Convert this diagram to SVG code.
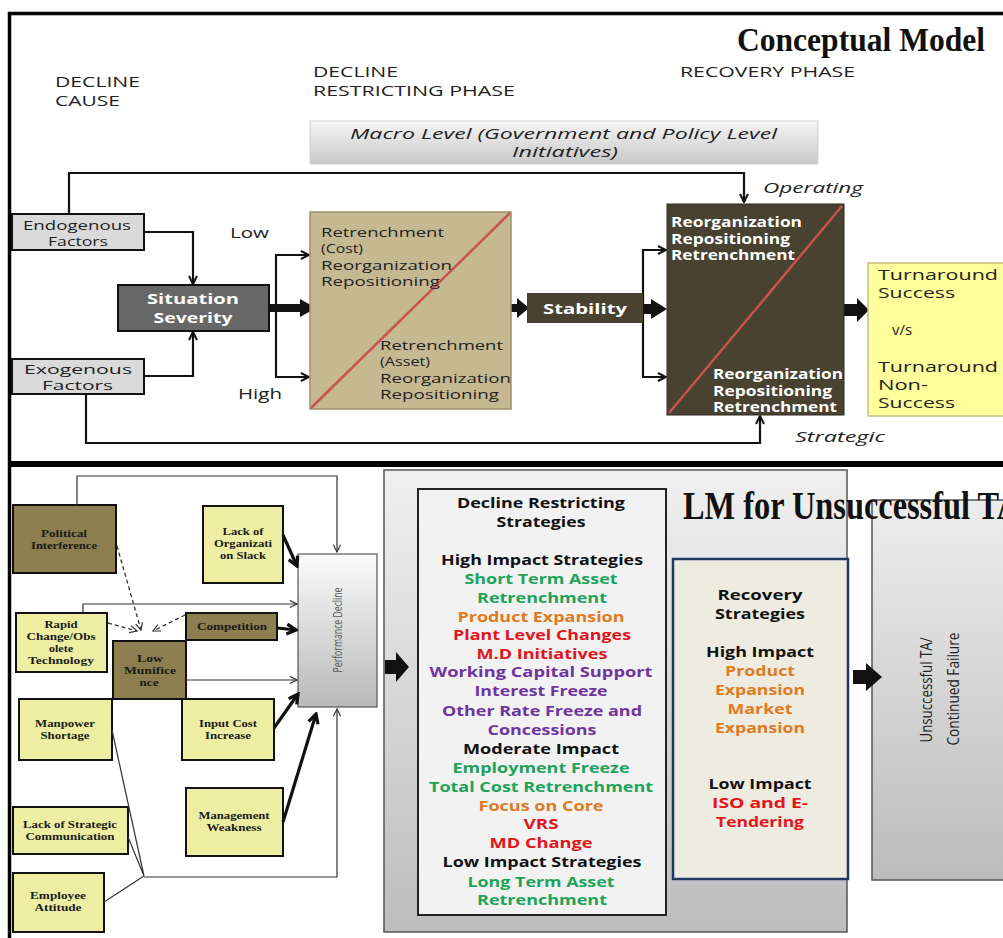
<svg xmlns="http://www.w3.org/2000/svg" width="1003" height="938" viewBox="0 0 1003 938">
  <defs>
    <style>
      .sans { font-family: "Open Sans", "DejaVu Sans", sans-serif; }
      .lbl { font-family: "Open Sans", "DejaVu Sans", sans-serif; font-size: 14px; fill: #222; }
      .box { font-size: 13.5px; }
      .it { font-family: "Open Sans", "DejaVu Sans", sans-serif; font-size: 15px; font-style: italic; fill: #222; }
      .wb { font-family: "Open Sans", "DejaVu Sans", sans-serif; font-size: 13.5px; font-weight: 700; fill: #fff; }
      .serif-title { font-family: "Liberation Serif", "Times New Roman", serif; font-weight: 700; fill: #111; }
      .strat { font-family: "Open Sans", "DejaVu Sans", sans-serif; font-size: 15px; font-weight: 700; text-anchor: middle; }
      .blk { fill: #111; }
      .grn { fill: #1ea35a; }
      .org { fill: #e07a1f; }
      .red { fill: #e3141c; }
      .pur { fill: #7034a0; }
      .cause { font-family: "Liberation Serif", "Times New Roman", serif; font-size: 10.5px; font-weight: 700; fill: #1a1a1a; text-anchor: middle; }
      .olive { fill: #8c7e4e; stroke: #111; stroke-width: 2; }
      .pale { fill: #eeeea2; stroke: #111; stroke-width: 2; }
      .link { fill: none; stroke: #111; stroke-width: 2.2; }
      .thin { fill: none; stroke: #333; stroke-width: 1.2; }
      .dash { fill: none; stroke: #333; stroke-width: 1.3; stroke-dasharray: 4 3; }
      .heavy { fill: none; stroke: #111; stroke-width: 3.2; }
      .block { fill: #111; }
      .diag { stroke: #c9534f; stroke-width: 2.5; }
    </style>
    <marker id="ah" viewBox="0 0 10 10" refX="9" refY="5" markerWidth="10" markerHeight="10" markerUnits="userSpaceOnUse" orient="auto">
      <path d="M1,1 L9,5 L1,9" fill="none" stroke="#111" stroke-width="2"/>
    </marker>
    <marker id="ahThin" viewBox="0 0 10 10" refX="9" refY="5" markerWidth="9" markerHeight="9" markerUnits="userSpaceOnUse" orient="auto">
      <path d="M1,1 L9,5 L1,9" fill="none" stroke="#333" stroke-width="1.3"/>
    </marker>
    <marker id="ahHeavy" viewBox="0 0 12 12" refX="10" refY="6" markerWidth="13" markerHeight="13" markerUnits="userSpaceOnUse" orient="auto">
      <path d="M1.5,1.5 L10,6 L1.5,10.5" fill="none" stroke="#111" stroke-width="3"/>
    </marker>
    <linearGradient id="macroGrad" x1="0" y1="0" x2="0" y2="1">
      <stop offset="0" stop-color="#f5f5f5"/>
      <stop offset="1" stop-color="#c8c8c8"/>
    </linearGradient>
    <linearGradient id="panelGrad" x1="0" y1="0" x2="0" y2="1">
      <stop offset="0" stop-color="#f0f0f0"/>
      <stop offset="1" stop-color="#bdbdbd"/>
    </linearGradient>
    <linearGradient id="perfGrad" x1="0" y1="0" x2="0" y2="1">
      <stop offset="0" stop-color="#fbfbfb"/>
      <stop offset="1" stop-color="#b9b9b9"/>
    </linearGradient>
    <linearGradient id="outGrad" x1="0" y1="0" x2="0" y2="1">
      <stop offset="0" stop-color="#ededed"/>
      <stop offset="1" stop-color="#bcbcbc"/>
    </linearGradient>
  </defs>

  <rect width="1003" height="938" fill="#fff"/>

  <!-- panel frames -->
  <g id="frames">
    <path d="M9.5,938 V13.5 H1003" fill="none" stroke="#000" stroke-width="3.5"/>
    <rect x="8" y="461" width="995" height="6" fill="#000"/>
  </g>

  <!-- ===== upper panel: conceptual model ===== -->
  <g id="headings">
    <text class="lbl" x="55" y="87" textLength="85" lengthAdjust="spacingAndGlyphs">DECLINE</text>
    <text class="lbl" x="55" y="106" textLength="65" lengthAdjust="spacingAndGlyphs">CAUSE</text>
    <text class="lbl" x="313" y="77" textLength="85" lengthAdjust="spacingAndGlyphs">DECLINE</text>
    <text class="lbl" x="313" y="96" textLength="202" lengthAdjust="spacingAndGlyphs">RESTRICTING PHASE</text>
    <text class="lbl" x="680" y="77" textLength="175" lengthAdjust="spacingAndGlyphs">RECOVERY PHASE</text>
    <text class="serif-title" x="737" y="51" font-size="34" textLength="248" lengthAdjust="spacingAndGlyphs">Conceptual Model</text>
  </g>

  <g id="macro">
    <rect x="310" y="121" width="508" height="43" fill="url(#macroGrad)" stroke="#d0d0d0" stroke-width="1"/>
    <text class="it" font-size="14" x="350" y="139" textLength="427" lengthAdjust="spacingAndGlyphs">Macro Level (Government and Policy Level</text>
    <text class="it" font-size="14" x="512" y="157" textLength="106" lengthAdjust="spacingAndGlyphs">Initiatives)</text>
  </g>

  <g id="connectors-top">
    <path class="link" d="M69,214 V173 H744 V202" marker-end="url(#ah)"/>
    <path class="link" d="M144,232 H193 V284" marker-end="url(#ah)"/>
    <path class="link" d="M144,376 H193 V332" marker-end="url(#ah)"/>
    <path class="link" d="M276,308 V255 H309" marker-end="url(#ah)"/>
    <path class="link" d="M276,308 V377 H309" marker-end="url(#ah)"/>
    <path class="link" d="M643,309 V250 H666" marker-end="url(#ah)"/>
    <path class="link" d="M643,309 V377 H666" marker-end="url(#ah)"/>
    <path class="link" d="M86,394 V443 H760 V416" marker-end="url(#ah)"/>
    <polygon class="block" points="269,304 300,304 300,299 316,308 300,317 300,312 269,312"/>
    <polygon class="block" points="511,304 517,304 517,298 529,308 517,318 517,312 511,312"/>
    <polygon class="block" points="633,304 651,304 651,299 667,309 651,319 651,314 633,314"/>
    <polygon class="block" points="844,304 857,304 857,298 869,310 857,322 857,316 844,316"/>
    <text class="it" x="763" y="193" textLength="100" lengthAdjust="spacingAndGlyphs">Operating</text>
    <text class="it" x="795" y="442" textLength="90" lengthAdjust="spacingAndGlyphs">Strategic</text>
    <text class="lbl" x="230" y="238" textLength="39" lengthAdjust="spacingAndGlyphs">Low</text>
    <text class="lbl" x="238" y="399" textLength="44" lengthAdjust="spacingAndGlyphs">High</text>
  </g>

  <g id="endogenous">
    <rect x="12" y="214" width="132" height="36" fill="#dadada" stroke="#111" stroke-width="2"/>
    <text class="lbl box" x="23" y="230" textLength="108" lengthAdjust="spacingAndGlyphs">Endogenous</text>
    <text class="lbl box" x="48" y="246" textLength="60" lengthAdjust="spacingAndGlyphs">Factors</text>
  </g>

  <g id="exogenous">
    <rect x="12" y="359" width="132" height="35" fill="#dadada" stroke="#111" stroke-width="2"/>
    <text class="lbl box" x="24" y="374" textLength="108" lengthAdjust="spacingAndGlyphs">Exogenous</text>
    <text class="lbl box" x="42" y="390" textLength="71" lengthAdjust="spacingAndGlyphs">Factors</text>
  </g>

  <g id="situation">
    <rect x="118" y="285" width="151" height="46" fill="#676767" stroke="#111" stroke-width="2"/>
    <text class="wb" x="193" y="304" font-size="15" text-anchor="middle" textLength="92" lengthAdjust="spacingAndGlyphs">Situation</text>
    <text class="wb" x="193" y="323" font-size="15" text-anchor="middle" textLength="79" lengthAdjust="spacingAndGlyphs">Severity</text>
  </g>

  <g id="restricting">
    <rect x="310" y="212" width="201" height="197" fill="#c6b991" stroke="#9c9070" stroke-width="1.5"/>
    <line class="diag" x1="311" y1="408" x2="510" y2="213"/>
    <text class="lbl box" x="321" y="237" textLength="123" lengthAdjust="spacingAndGlyphs">Retrenchment</text>
    <text class="lbl box" x="321" y="253" textLength="42" lengthAdjust="spacingAndGlyphs">(Cost)</text>
    <text class="lbl box" x="321" y="270" textLength="131" lengthAdjust="spacingAndGlyphs">Reorganization</text>
    <text class="lbl box" x="321" y="286" textLength="119" lengthAdjust="spacingAndGlyphs">Repositioning</text>
    <text class="lbl box" x="380" y="350" textLength="123" lengthAdjust="spacingAndGlyphs">Retrenchment</text>
    <text class="lbl box" x="380" y="366" textLength="50" lengthAdjust="spacingAndGlyphs">(Asset)</text>
    <text class="lbl box" x="380" y="383" textLength="131" lengthAdjust="spacingAndGlyphs">Reorganization</text>
    <text class="lbl box" x="380" y="399" textLength="119" lengthAdjust="spacingAndGlyphs">Repositioning</text>
  </g>

  <g id="stability">
    <rect x="527" y="293" width="116" height="30" fill="#494230"/>
    <text class="wb" x="543" y="314" font-size="15" textLength="84" lengthAdjust="spacingAndGlyphs">Stability</text>
  </g>

  <g id="recovery-phase">
    <rect x="667" y="204" width="177" height="211" fill="#494230" stroke="#2e2a1e" stroke-width="1"/>
    <line class="diag" x1="669" y1="413" x2="842" y2="206"/>
    <text class="wb" x="671" y="227" textLength="131" lengthAdjust="spacingAndGlyphs">Reorganization</text>
    <text class="wb" x="671" y="244" textLength="119" lengthAdjust="spacingAndGlyphs">Repositioning</text>
    <text class="wb" x="671" y="260" textLength="124" lengthAdjust="spacingAndGlyphs">Retrenchment</text>
    <text class="wb" x="713" y="379" textLength="130" lengthAdjust="spacingAndGlyphs">Reorganization</text>
    <text class="wb" x="713" y="396" textLength="119" lengthAdjust="spacingAndGlyphs">Repositioning</text>
    <text class="wb" x="713" y="412" textLength="124" lengthAdjust="spacingAndGlyphs">Retrenchment</text>
  </g>

  <g id="outcome">
    <rect x="868" y="263" width="150" height="153" fill="#ffff9c" stroke="#c5bd80" stroke-width="1.5"/>
    <text class="lbl" font-size="15" x="878" y="280" textLength="120" lengthAdjust="spacingAndGlyphs">Turnaround</text>
    <text class="lbl" font-size="15" x="878" y="298" textLength="77" lengthAdjust="spacingAndGlyphs">Success</text>
    <text class="lbl" font-size="15" x="892" y="335" textLength="20" lengthAdjust="spacingAndGlyphs">v/s</text>
    <text class="lbl" font-size="15" x="878" y="372" textLength="120" lengthAdjust="spacingAndGlyphs">Turnaround</text>
    <text class="lbl" font-size="15" x="878" y="390" textLength="50" lengthAdjust="spacingAndGlyphs">Non-</text>
    <text class="lbl" font-size="15" x="878" y="408" textLength="77" lengthAdjust="spacingAndGlyphs">Success</text>
  </g>

  <!-- ===== lower panel: LM for unsuccessful turnaround ===== -->
  <g id="restricting-strategies">
    <rect x="384" y="470" width="463" height="462" fill="url(#panelGrad)" stroke="#555" stroke-width="1.5"/>
    <rect x="418" y="489" width="248" height="426" fill="#f2f2f2" stroke="#222" stroke-width="2"/>
    <text class="strat blk" x="541" y="508" textLength="168" lengthAdjust="spacingAndGlyphs">Decline Restricting</text>
    <text class="strat blk" x="541" y="527" textLength="89" lengthAdjust="spacingAndGlyphs">Strategies</text>
    <text class="strat blk" x="542" y="565" textLength="202" lengthAdjust="spacingAndGlyphs">High Impact Strategies</text>
    <text class="strat grn" x="541" y="584" textLength="153" lengthAdjust="spacingAndGlyphs">Short Term Asset</text>
    <text class="strat grn" x="542" y="603" textLength="130" lengthAdjust="spacingAndGlyphs">Retrenchment</text>
    <text class="strat org" x="541" y="622" textLength="167" lengthAdjust="spacingAndGlyphs">Product Expansion</text>
    <text class="strat red" x="542" y="640" textLength="178" lengthAdjust="spacingAndGlyphs">Plant Level Changes</text>
    <text class="strat red" x="542" y="659" textLength="131" lengthAdjust="spacingAndGlyphs">M.D Initiatives</text>
    <text class="strat pur" x="541" y="677" textLength="223" lengthAdjust="spacingAndGlyphs">Working Capital  Support</text>
    <text class="strat pur" x="541" y="696" textLength="133" lengthAdjust="spacingAndGlyphs">Interest Freeze</text>
    <text class="strat pur" x="542" y="716" textLength="200" lengthAdjust="spacingAndGlyphs">Other Rate Freeze and</text>
    <text class="strat pur" x="542" y="735" textLength="109" lengthAdjust="spacingAndGlyphs">Concessions</text>
    <text class="strat blk" x="541" y="754" textLength="156" lengthAdjust="spacingAndGlyphs">Moderate Impact</text>
    <text class="strat grn" x="541" y="773" textLength="177" lengthAdjust="spacingAndGlyphs">Employment Freeze</text>
    <text class="strat grn" x="541" y="792" textLength="224" lengthAdjust="spacingAndGlyphs">Total Cost Retrenchment</text>
    <text class="strat org" x="541" y="811" textLength="125" lengthAdjust="spacingAndGlyphs">Focus on Core</text>
    <text class="strat red" x="541" y="829" textLength="35" lengthAdjust="spacingAndGlyphs">VRS</text>
    <text class="strat red" x="541" y="848" textLength="103" lengthAdjust="spacingAndGlyphs">MD Change</text>
    <text class="strat blk" x="542" y="867" textLength="199" lengthAdjust="spacingAndGlyphs">Low Impact Strategies</text>
    <text class="strat grn" x="541" y="887" textLength="147" lengthAdjust="spacingAndGlyphs">Long Term Asset</text>
    <text class="strat grn" x="542" y="905" textLength="130" lengthAdjust="spacingAndGlyphs">Retrenchment</text>
  </g>

  <g id="unsuccessful">
    <rect x="872" y="500" width="150" height="380" fill="url(#outGrad)" stroke="#555" stroke-width="1.5"/>
    <text class="sans" font-size="16" fill="#222" text-anchor="middle" transform="translate(932,690) rotate(-90)" textLength="105" lengthAdjust="spacingAndGlyphs">Unsuccessful TA/</text>
    <text class="sans" font-size="16" fill="#222" text-anchor="middle" transform="translate(959,689) rotate(-90)" textLength="113" lengthAdjust="spacingAndGlyphs">Continued Failure</text>
  </g>

  <text id="lm-title" class="serif-title" x="683" y="519" font-size="40" textLength="337" lengthAdjust="spacingAndGlyphs">LM for Unsuccessful TA</text>

  <g id="recovery-strategies">
    <rect x="673" y="559" width="175" height="320" fill="#eeebe0" stroke="#1f3864" stroke-width="2.5"/>
    <text class="strat blk" x="760" y="600" textLength="85" lengthAdjust="spacingAndGlyphs">Recovery</text>
    <text class="strat blk" x="760" y="619" textLength="90" lengthAdjust="spacingAndGlyphs">Strategies</text>
    <text class="strat blk" x="760" y="657" textLength="108" lengthAdjust="spacingAndGlyphs">High Impact</text>
    <text class="strat org" x="760" y="676" textLength="70" lengthAdjust="spacingAndGlyphs">Product</text>
    <text class="strat org" x="760" y="695" textLength="90" lengthAdjust="spacingAndGlyphs">Expansion</text>
    <text class="strat org" x="760" y="714" textLength="65" lengthAdjust="spacingAndGlyphs">Market</text>
    <text class="strat org" x="760" y="733" textLength="90" lengthAdjust="spacingAndGlyphs">Expansion</text>
    <text class="strat blk" x="760" y="789" textLength="103" lengthAdjust="spacingAndGlyphs">Low Impact</text>
    <text class="strat red" x="760" y="808" textLength="96" lengthAdjust="spacingAndGlyphs">ISO  and E-</text>
    <text class="strat red" x="760" y="827" textLength="88" lengthAdjust="spacingAndGlyphs">Tendering</text>
  </g>

  <g id="performance-decline">
    <rect x="298" y="554" width="79" height="153" fill="url(#perfGrad)" stroke="#555" stroke-width="1.2"/>
    <text class="sans" font-size="13" fill="#555" text-anchor="middle" transform="translate(342,630) rotate(-90)" textLength="85" lengthAdjust="spacingAndGlyphs">Performance Decline</text>
  </g>

  <g id="political">
    <rect class="olive" x="13" y="505" width="103" height="68"/>
    <text class="cause" x="64" y="537" textLength="46" lengthAdjust="spacingAndGlyphs">Political</text>
    <text class="cause" x="64" y="549" textLength="66" lengthAdjust="spacingAndGlyphs">Interference</text>
  </g>
  <g id="org-slack">
    <rect class="pale" x="203" y="506" width="80" height="77"/>
    <text class="cause" x="243" y="535" textLength="41" lengthAdjust="spacingAndGlyphs">Lack of</text>
    <text class="cause" x="243" y="547" textLength="58" lengthAdjust="spacingAndGlyphs">Organizati</text>
    <text class="cause" x="243" y="559" textLength="46" lengthAdjust="spacingAndGlyphs">on Slack</text>
  </g>
  <g id="rapid-change">
    <rect class="pale" x="16" y="613" width="91" height="59"/>
    <text class="cause" x="61" y="628" textLength="33" lengthAdjust="spacingAndGlyphs">Rapid</text>
    <text class="cause" x="61" y="640" textLength="69" lengthAdjust="spacingAndGlyphs">Change/Obs</text>
    <text class="cause" x="61" y="652" textLength="24" lengthAdjust="spacingAndGlyphs">olete</text>
    <text class="cause" x="61" y="664" textLength="66" lengthAdjust="spacingAndGlyphs">Technology</text>
  </g>
  <g id="competition">
    <rect class="olive" x="186" y="613" width="91" height="27"/>
    <text class="cause" x="232" y="630" textLength="70" lengthAdjust="spacingAndGlyphs">Competition</text>
  </g>
  <g id="low-munificence">
    <rect class="olive" x="113" y="641" width="73" height="58"/>
    <text class="cause" x="150" y="662" textLength="26" lengthAdjust="spacingAndGlyphs">Low</text>
    <text class="cause" x="150" y="674" textLength="52" lengthAdjust="spacingAndGlyphs">Munifice</text>
    <text class="cause" x="149" y="686" textLength="19" lengthAdjust="spacingAndGlyphs">nce</text>
  </g>
  <g id="manpower">
    <rect class="pale" x="19" y="699" width="93" height="61"/>
    <text class="cause" x="65" y="727" textLength="60" lengthAdjust="spacingAndGlyphs">Manpower</text>
    <text class="cause" x="65" y="739" textLength="49" lengthAdjust="spacingAndGlyphs">Shortage</text>
  </g>
  <g id="input-cost">
    <rect class="pale" x="182" y="699" width="92" height="61"/>
    <text class="cause" x="228" y="727" textLength="58" lengthAdjust="spacingAndGlyphs">Input Cost</text>
    <text class="cause" x="228" y="739" textLength="46" lengthAdjust="spacingAndGlyphs">Increase</text>
  </g>
  <g id="management">
    <rect class="pale" x="186" y="788" width="97" height="68"/>
    <text class="cause" x="234" y="819" textLength="71" lengthAdjust="spacingAndGlyphs">Management</text>
    <text class="cause" x="234" y="831" textLength="55" lengthAdjust="spacingAndGlyphs">Weakness</text>
  </g>
  <g id="strategic-communication">
    <rect class="pale" x="13" y="807" width="115" height="47"/>
    <text class="cause" x="70" y="828" textLength="94" lengthAdjust="spacingAndGlyphs">Lack of Strategic</text>
    <text class="cause" x="70" y="840" textLength="89" lengthAdjust="spacingAndGlyphs">Communication</text>
  </g>
  <g id="employee-attitude">
    <rect class="pale" x="13" y="873" width="91" height="59"/>
    <text class="cause" x="58" y="899" textLength="56" lengthAdjust="spacingAndGlyphs">Employee</text>
    <text class="cause" x="58" y="911" textLength="47" lengthAdjust="spacingAndGlyphs">Attitude</text>
  </g>

  <g id="connectors-bottom">
    <path class="thin" d="M77,505 V476 H337 V552" marker-end="url(#ahThin)"/>
    <path class="thin" d="M83,613 V604 H297" marker-end="url(#ahThin)"/>
    <path class="thin" d="M186,680 H297" marker-end="url(#ahThin)"/>
    <path class="thin" d="M112,730 L144,876 M128,837 L144,876 M104,902 L144,876"/>
    <path class="thin" d="M144,877 H337 V709" marker-end="url(#ahThin)"/>
    <path class="dash" d="M117,546 L141,630" marker-end="url(#ahThin)"/>
    <path class="dash" d="M108,623 L137,631" marker-end="url(#ahThin)"/>
    <path class="dash" d="M185,615 L153,631" marker-end="url(#ahThin)"/>
    <path class="heavy" d="M283,535 L297,566" marker-end="url(#ahHeavy)"/>
    <path class="heavy" d="M277,628 L296,630" marker-end="url(#ahHeavy)"/>
    <path class="heavy" d="M274,728 L298,694" marker-end="url(#ahHeavy)"/>
    <path class="heavy" d="M283,822 L316,714" marker-end="url(#ahHeavy)"/>
    <polygon class="block" points="385,660 396,660 396,652 409,667 396,682 396,674 385,674"/>
    <polygon class="block" points="853,670 866,670 866,663 882,677 866,691 866,684 853,684"/>
  </g>
</svg>
